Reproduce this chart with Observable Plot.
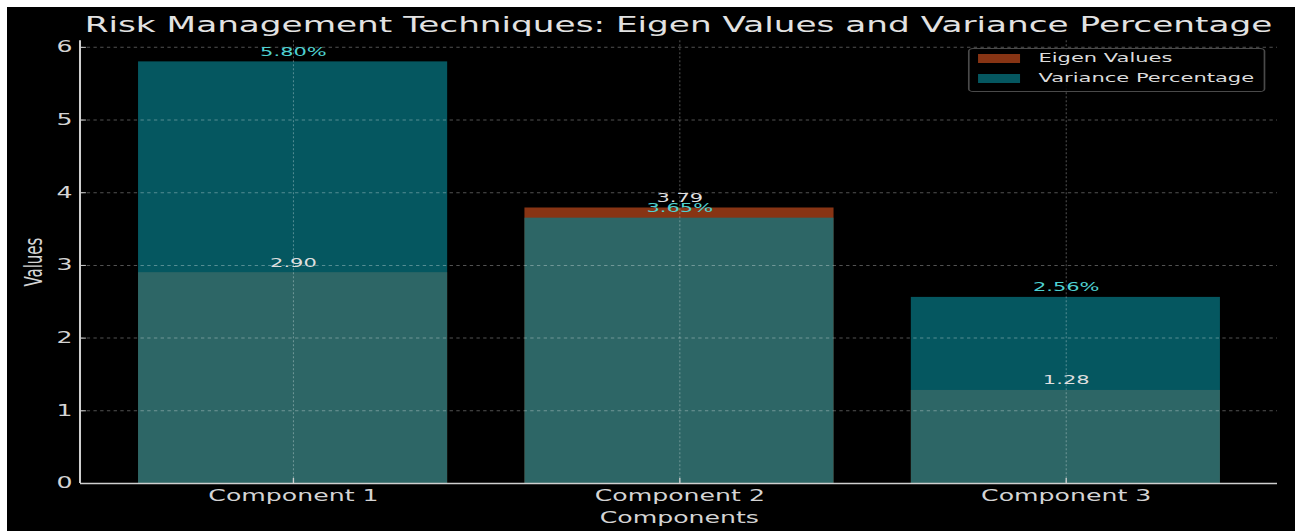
<!DOCTYPE html>
<html>
<head>
<meta charset="utf-8">
<script src="https://cdn.jsdelivr.net/npm/d3@7"></script>
<script src="https://cdn.jsdelivr.net/npm/@observablehq/plot@0.6"></script>
<style>
  html, body { margin: 0; padding: 0; background: #fff; width: 1295px; height: 531px; overflow: hidden; }
  #canvas { position: absolute; left: 7px; top: 7px; width: 1288px; height: 524px; background: #000; overflow: hidden; }
  /* the figure is laid out in a narrower box and widened horizontally */
  #stage { position: absolute; left: 0; top: 0; width: 766.67px; height: 524px;
           transform: scaleX(1.68); transform-origin: 0 0; font-family: "DejaVu Sans", sans-serif; }
  #title { position: absolute; top: 8px; left: 43.45px; width: 712.5px; text-align: center;
           font-size: 20.4px; line-height: 20px; color: #e2e2e2; white-space: nowrap; }
  #chart { position: absolute; left: 0; top: 32px; }
  #legend { position: absolute; left: 572px; top: 41px; width: 176.8px; height: 44px; box-sizing: border-box;
            border: 1px solid #4a4a4a; border-radius: 3px; background: rgba(0,0,0,0.8); }
  .sw { position: absolute; left: 5.4px; width: 25px; height: 9px; }
  .lt { position: absolute; left: 41px; font-size: 12.5px; line-height: 12.5px; color: #dcdcdc; white-space: nowrap; }
</style>
</head>
<body>
<div id="canvas">
  <div id="stage">
    <div id="title">Risk Management Techniques: Eigen Values and Variance Percentage</div>
    <div id="chart"></div>
    <div id="legend">
      <div class="sw" style="top:5px;background:#873414"></div>
      <div class="lt" style="top:3px">Eigen Values</div>
      <div class="sw" style="top:25px;background:#077c89;opacity:0.7"></div>
      <div class="lt" style="top:23px">Variance Percentage</div>
    </div>
  </div>
</div>
<script>
const components = ["Component 1", "Component 2", "Component 3"];
const eigenValues = [2.90, 3.79, 1.28];
const variancePct = [5.80, 3.65, 2.56];
const yTicks = [0, 1, 2, 3, 4, 5, 6];

const rows = components.map((c, i) => ({component: c, eigen: eigenValues[i], variance: variancePct[i]}));

const W = 766.67, H = 492;
const ML = 43.45, MR = 10.7, MT = 1.3, MB = 48;
const innerW = W - ML - MR, innerH = H - MT - MB;
const spine = "#cfcfcf";
const gridStyle = {stroke: "#ffffff", strokeOpacity: 0.32, strokeDasharray: "2,2"};

const chart = Plot.plot({
  width: W,
  height: H,
  marginLeft: ML,
  marginRight: MR,
  marginTop: MT,
  marginBottom: MB,
  style: {background: "black", color: "#d4d4d4", fontFamily: "DejaVu Sans", fontSize: "15px", overflow: "visible"},
  x: {type: "band", domain: components, paddingInner: 0.2, paddingOuter: 0.1425, label: null},
  y: {domain: [0, 6.09], ticks: yTicks, label: null},
  marks: [
    Plot.barY(rows, {x: "component", y: "eigen", fill: "#873414"}),
    Plot.barY(rows, {x: "component", y: "variance", fill: "#077c89", fillOpacity: 0.7}),
    Plot.gridY(yTicks, {...gridStyle, strokeWidth: 1}),
    Plot.gridX(components, {...gridStyle, strokeWidth: 0.6}),
    Plot.tickY(yTicks, {y: d => d, stroke: spine, strokeWidth: 1, insetRight: innerW - 3.5}),
    Plot.tickX(components, {x: d => d, stroke: spine, strokeWidth: 0.8, insetTop: innerH - 5}),
    Plot.ruleY([0], {stroke: spine, strokeWidth: 1.6}),
    Plot.axisY(yTicks, {tickSize: 0, tickPadding: 5, fontSize: 15, fill: "#d4d4d4", label: null, tickFormat: d => String(d)}),
    Plot.axisX(components, {tickSize: 0, tickPadding: 7, fontSize: 15, fill: "#d4d4d4", label: null}),
    Plot.text(["Values"], {frameAnchor: "left", textAnchor: "middle", lineAnchor: "middle", rotate: -90, dx: -28, fontSize: 15, fill: "#d4d4d4"}),
    Plot.text(["Components"], {frameAnchor: "bottom", dy: 40, fontSize: 15, fill: "#d4d4d4"}),
    Plot.text(rows, {x: "component", y: "eigen", text: d => d.eigen.toFixed(2), dy: -10, fontSize: 12.5, fill: "#dedede"}),
    Plot.text(rows, {x: "component", y: "variance", text: d => d.variance.toFixed(2) + "%", dy: -10, fontSize: 12.5, fill: "#4fd0d0"})
  ]
});

// left spine of the axes
const y = chart.scale("y");
d3.select(chart).append("line")
  .attr("x1", ML).attr("x2", ML)
  .attr("y1", y.apply(0)).attr("y2", y.apply(6.09))
  .attr("stroke", spine).attr("stroke-width", 1.2);

document.getElementById("chart").appendChild(chart);
</script>
</body>
</html>
